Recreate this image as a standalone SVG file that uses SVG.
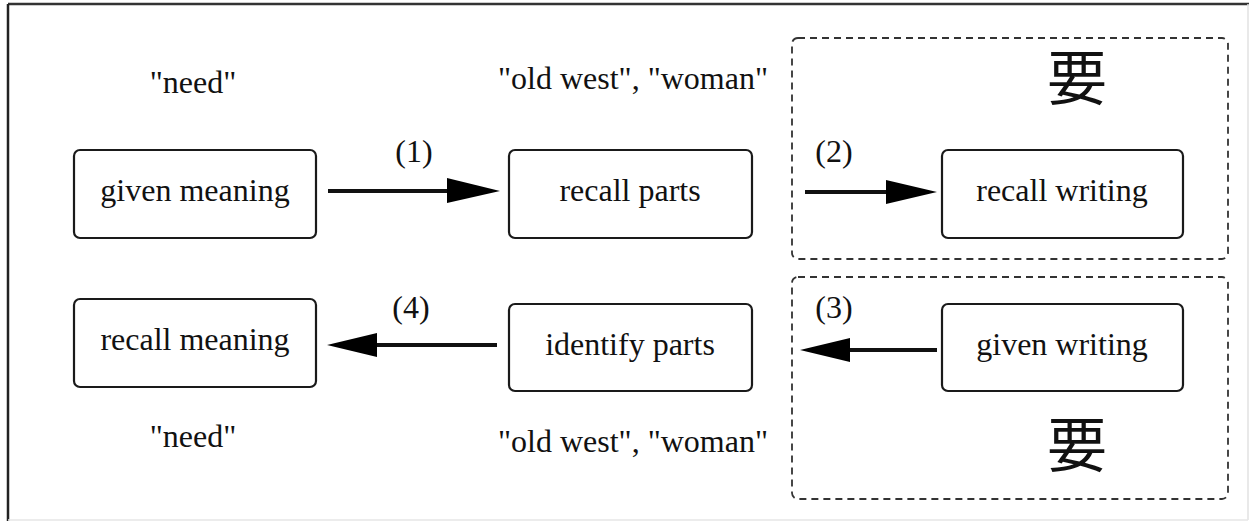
<svg xmlns="http://www.w3.org/2000/svg" width="1251" height="522" viewBox="0 0 1251 522">
  <style>
    .node { fill: #ffffff; stroke: #1a1a1a; stroke-width: 2.2; }
    .group { fill: none; stroke: #333333; stroke-width: 1.8; stroke-dasharray: 7 5; }
    .lbl { font-family: "Liberation Serif", "Times New Roman", serif; font-size: 32px; fill: #111111; text-anchor: middle; }
    .kanji { font-family: "Noto Sans CJK JP", "Noto Sans CJK SC", sans-serif; font-size: 60px; fill: #111111; text-anchor: middle; }
    .edge { stroke: #111111; stroke-width: 4; fill: none; }
    .head { fill: #000000; }
  </style>

  <rect x="0" y="0" width="1251" height="522" fill="#ffffff"/>

  <!-- frame: dark on top/left, faint on right/bottom -->
  <g id="frame">
    <line x1="8" y1="4" x2="1249" y2="4" stroke="#333333" stroke-width="2.5"/>
    <line x1="8" y1="4" x2="8" y2="521" stroke="#222222" stroke-width="2.5"/>
    <line x1="1248" y1="4" x2="1248" y2="520" stroke="#e2e2e2" stroke-width="1.5"/>
    <line x1="8" y1="520" x2="1248" y2="520" stroke="#e6e6e6" stroke-width="1.5"/>
  </g>

  <!-- dashed groupings around the writing steps -->
  <g id="group-write">
    <rect class="group" x="792" y="38" width="436" height="221" rx="6"/>
    <text class="kanji" x="1077" y="100">要</text>
  </g>
  <g id="group-read">
    <rect class="group" x="792" y="277" width="436" height="222" rx="6"/>
    <text class="kanji" x="1077" y="467">要</text>
  </g>

  <!-- top row -->
  <g id="given-meaning">
    <rect class="node" x="74" y="150" width="242" height="88" rx="6"/>
    <text class="lbl" x="195" y="201">given meaning</text>
    <text class="lbl" x="193" y="93">"need"</text>
  </g>
  <g id="recall-parts">
    <rect class="node" x="509" y="150" width="243" height="88" rx="6"/>
    <text class="lbl" x="630" y="201">recall parts</text>
    <text class="lbl" x="633" y="89">"old west", "woman"</text>
  </g>
  <g id="recall-writing">
    <rect class="node" x="942" y="150" width="241" height="88" rx="6"/>
    <text class="lbl" x="1062" y="201">recall writing</text>
  </g>

  <!-- bottom row -->
  <g id="recall-meaning">
    <rect class="node" x="74" y="299" width="242" height="88" rx="6"/>
    <text class="lbl" x="195" y="350">recall meaning</text>
    <text class="lbl" x="193" y="447">"need"</text>
  </g>
  <g id="identify-parts">
    <rect class="node" x="509" y="304" width="243" height="87" rx="6"/>
    <text class="lbl" x="630" y="355">identify parts</text>
    <text class="lbl" x="633" y="452">"old west", "woman"</text>
  </g>
  <g id="given-writing">
    <rect class="node" x="942" y="304" width="241" height="87" rx="6"/>
    <text class="lbl" x="1062" y="355">given writing</text>
  </g>

  <!-- connectors -->
  <g id="connectors">
    <line class="edge" x1="328" y1="191" x2="449" y2="191"/>
    <polygon class="head" points="447,178 500,191 447,203"/>
    <text class="lbl" x="414" y="162">(1)</text>

    <line class="edge" x1="805" y1="192" x2="888" y2="192"/>
    <polygon class="head" points="886,180 937,192 886,204"/>
    <text class="lbl" x="834" y="162">(2)</text>

    <line class="edge" x1="937" y1="350" x2="848" y2="350"/>
    <polygon class="head" points="850,338 800,350 850,362"/>
    <text class="lbl" x="834" y="318">(3)</text>

    <line class="edge" x1="497" y1="345" x2="375" y2="345"/>
    <polygon class="head" points="377,333 327,345 377,357"/>
    <text class="lbl" x="411" y="318">(4)</text>
  </g>
</svg>
